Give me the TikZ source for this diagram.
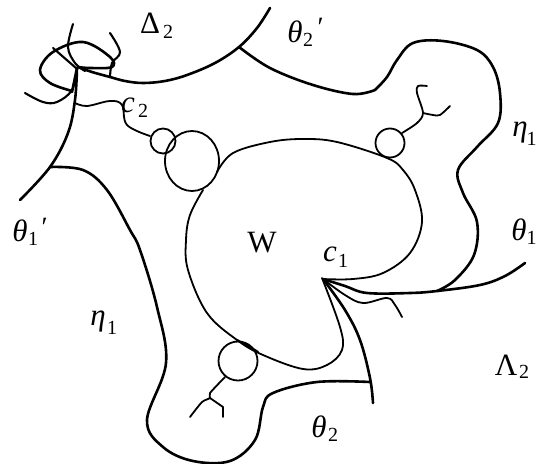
\documentclass[tikz,border=0pt]{standalone}
\usepackage{fontspec}
\setmainfont{Liberation Serif}
\begin{document}
\begin{tikzpicture}[x=1pt,y=-1pt,
  thickline/.style={line width=2.6pt,line cap=round,line join=round,black},
  midline/.style={line width=2.1pt,line cap=round,line join=round,black},
  thinline/.style={line width=1.8pt,line cap=round,line join=round,black},
  main/.style={inner sep=0pt,font=\fontsize{31}{31}\selectfont},
  ital/.style={inner sep=0pt,font=\fontsize{31}{31}\selectfont\itshape},
  sub/.style={inner sep=0pt,font=\fontsize{20}{20}\selectfont},
  prm/.style={inner sep=0pt,font=\fontsize{28}{28}\selectfont\itshape}]
\useasboundingbox (0,0) rectangle (537,463);
\clip (0,0) rectangle (537,463);
% big arc of Delta_2
\draw[thickline] plot[smooth,tension=.6] coordinates {(270,8)(257,28)(239,47)(215,63)(187,75)(165,81)(143,83)(125,81)(110,77)(92,72)(78,67)};
% theta_2' and eta_1 upper right
\draw[thickline] plot[smooth,tension=.6] coordinates {(239,47)(270,68)(313,85)(353,94)(375,90)};
\draw[thickline] plot[smooth,tension=.6] coordinates {(375,90)(387,77)(397,60)(413,43)(443,41)(477,50)(493,67)(500,93)(498,123)(477,147)(458,170)(463,193)(477,222)(474,255)(455,280)(437,291)};
% theta_1 line
\draw[thickline] plot[smooth,tension=.6] coordinates {(323,279)(345,286)(367,293)(410,293)(437,291)(480,285)(505,276)(525,263)};
% theta_2 line
\draw[thickline] plot[smooth,tension=.6] coordinates {(323,279)(345,310)(360,340)(370,378)(373,403)};
% eta_1 lower left
\draw[thickline] plot[smooth,tension=.6] coordinates {(50,167)(83,170)(107,190)(130,230)(140,250)(157,307)(166,363)(147,420)(163,447)(193,461)(230,461)(255,440)(263,407)(273,393)(317,382)(370,382)};
% theta_1' line
\draw[thickline] plot[smooth,tension=.6] coordinates {(77,68)(75,100)(68,133)(50,167)(20,200)};
\draw[thickline] (77,68) -- (72,92);
% W boundary
\draw[thinline] plot[smooth,tension=.6] coordinates {(323,279)(353,279)(383,273)(410,253)(422,222)(415,190)(403,170)(387,158)(337,142)(303,139)(270,142)(233,153)(217,172)};
\draw[thinline] plot[smooth,tension=.6] coordinates {(203,190)(190,215)(186,240)(188,270)(207,313)(237,340)(263,355)(303,369)(327,365)(342,350)(340,327)(322,278)};
\draw[midline] plot[smooth,tension=.6] coordinates {(237,340)(250,347)(258,352)};
% third thin line at c1
\draw[thinline] plot[smooth,tension=.6] coordinates {(323,279)(345,295)(363,303)(387,298)(395,305)(402,317)};
% circles
\draw[thinline] (192,161) ellipse [x radius=27,y radius=30];
\draw[thinline] (163,141) circle [radius=12.5];
\draw[thinline] (390,143) circle [radius=14.5];
\draw[thinline] (238,361) circle [radius=19.5];
% trees
\draw[thinline] plot[smooth,tension=.5] coordinates {(402,133)(417,123)(423,113)(417,93)(418,86)(427,86)};
\draw[thinline] plot[smooth,tension=.5] coordinates {(423,113)(433,115)(440,115)(450,106)};
\draw[thinline] plot[smooth,tension=.4] coordinates {(225,377)(210,393)(210,398)(202,402)(190,417)};
\draw[thinline] (210,398) -- (223,407) -- (223,417);
% knot
\draw[thickline] plot[smooth,tension=.6] coordinates {(72,91)(50,83)(40,70)(53,52)(83,42)(110,57)(112,67)(90,68)(78,67)};
\draw[midline] plot[smooth,tension=.6] coordinates {(73,24)(68,47)(75,63)(85,71)};
\draw[midline] (53,48) -- (76,68);
\draw[midline] plot[smooth,tension=.6] coordinates {(110,33)(120,52)(112,63)(110,77)};
\draw[midline] plot[smooth,tension=.6] coordinates {(25,93)(43,102)(57,102)(72,90)(77,68)};
% c2 line
\draw[thinline] plot[smooth,tension=.6] coordinates {(75,103)(87,106)(110,101)(122,105)(127,125)(150,136)};
% labels
\node[main] (delta) at (150,23) {Δ};
\node[sub] (deltas) at (168,32) {2};
\node[ital] (thp) at (295,32) {θ};
\node[sub] (thps) at (308,40) {2};
\node[prm] (thpp) at (319,27) {′};
\node[ital] (eta) at (520,133) {η};
\node[sub] (etas) at (531.5,139) {1};
\node[ital] (tha) at (519,230) {θ};
\node[sub] (thas) at (531.5,238) {1};
\node[ital] (thb) at (20,231) {θ};
\node[sub] (thbs) at (33,239) {1};
\node[prm] (thbp) at (43,227) {′};
\node[main] (w) at (262,243) {W};
\node[ital] (c1) at (330,254) {c};
\node[sub] (c1s) at (343,261) {1};
\node[ital] (c2) at (128,105) {c};
\node[sub] (c2s) at (143,111) {2};
\node[ital] (etb) at (98,321) {η};
\node[sub] (etbs) at (112,328) {1};
\node[ital] (thc) at (319,427) {θ};
\node[sub] (thcs) at (333,435) {2};
\node[main] (lam) at (506,365) {Λ};
\node[sub] (lams) at (524,372) {2};
\end{tikzpicture}
\end{document}
